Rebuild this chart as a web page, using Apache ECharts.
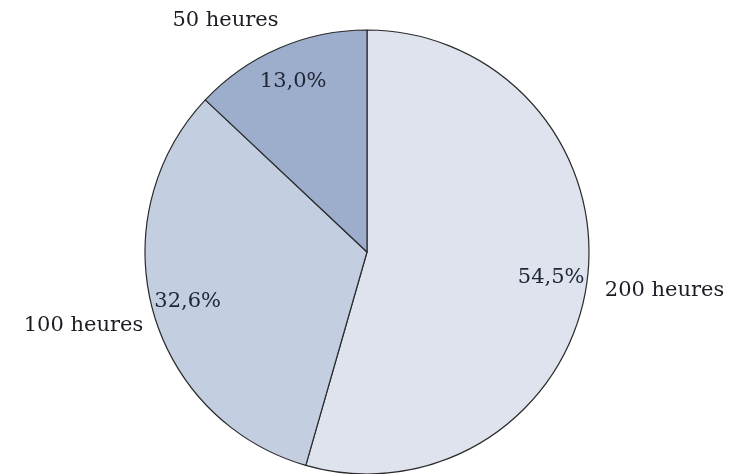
<!DOCTYPE html>
<html>
<head>
<meta charset="utf-8">
<script src="https://cdn.jsdelivr.net/npm/echarts@6/dist/echarts.min.js"></script>
<style>html,body{margin:0;padding:0;background:#fff}#c{width:733px;height:474px}</style>
</head>
<body>
<div id="c"></div>
<script>
const categories = ['200 heures', '100 heures', '50 heures'];
const values = [54.5, 32.6, 13.0];
const colors = ['#dee3ee', '#c4cee1', '#9caecb'];

const chart = echarts.init(document.getElementById('c'), null, {renderer: 'canvas'});
const data = categories.map((c, i) => ({name: c, value: values[i], itemStyle: {color: colors[i]}}));
const font = {fontFamily: 'DejaVu Serif', fontSize: 21, color: '#1c1c24'};
// small label nudges (layout only) to mimic the original placement
const nameNudge = [[0, 7], [8, 13], [14, -22]];

chart.setOption({
  animation: false,
  series: [
    {
      type: 'pie',
      center: [367, 252],
      radius: [0, 222],
      startAngle: 90,
      clockwise: true,
      avoidLabelOverlap: false,
      silent: true,
      itemStyle: {borderColor: '#2a2a2a', borderWidth: 1.2},
      label: Object.assign({show: true, position: 'outside', formatter: '{b}', distanceToLabelLine: 4}, font),
      labelLine: {show: false, length: 6, length2: 8},
      labelLayout: p => ({dx: nameNudge[p.dataIndex][0], dy: nameNudge[p.dataIndex][1]}),
      data: data
    },
    {
      type: 'pie',
      center: [367, 252],
      radius: [144, 222],
      startAngle: 90,
      clockwise: true,
      silent: true,
      avoidLabelOverlap: false,
      itemStyle: {color: 'rgba(0,0,0,0)', borderWidth: 0},
      label: Object.assign({show: true, position: 'inside',
        formatter: p => p.value.toFixed(1).replace('.', ',') + '%'}, font, {color: '#1f2535'}),
      labelLine: {show: false},
      data: categories.map((c, i) => ({name: c, value: values[i]}))
    }
  ]
});
</script>
</body>
</html>
